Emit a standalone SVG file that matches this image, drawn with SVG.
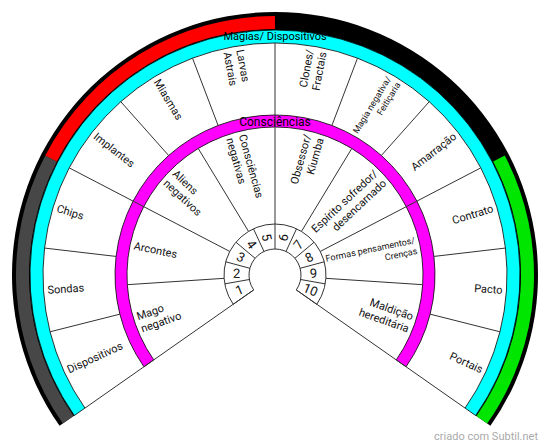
<svg xmlns="http://www.w3.org/2000/svg" width="550" height="447" viewBox="0 0 550 447">
<style>
text { font-family: Roboto, "Liberation Sans", Arial, sans-serif; fill: #111; }
.lbl { font-size: 11px; }
.l { text-anchor: start; }
.r { text-anchor: end; }
.sm { font-size: 9px; }
.num { font-size: 13px; text-anchor: middle; }
.ttl { font-size: 11px; text-anchor: middle; fill: #000; }
.div { stroke: #333; stroke-width: 1; fill: none; }
.band { stroke: #000; stroke-width: 0.8; }
</style>
<rect width="550" height="447" fill="#fff"/>
<g id="outer-ring">
  <path d="M 59.56 425.85 A 263 263 0 1 1 490.44 425.85 L 475.28 415.24 A 244.5 244.5 0 1 0 74.72 415.24 Z" fill="#000"/>
  <path id="seg-gray" d="M 62.84 423.56 A 259 259 0 0 1 45.26 155.41 L 56.80 161.41 A 246 246 0 0 0 73.49 416.10 Z" fill="#474747"/>
  <path id="seg-red" d="M 45.26 155.41 A 259 259 0 0 1 275 16 L 275 29 A 246 246 0 0 0 56.80 161.41 Z" fill="#ff0000"/>
  <path id="seg-black" d="M 275 16 A 259 259 0 0 1 504.74 155.41 L 493.20 161.41 A 246 246 0 0 0 275 29 Z" fill="#000"/>
  <path id="seg-green" d="M 504.74 155.41 A 259 259 0 0 1 487.16 423.56 L 476.51 416.10 A 246 246 0 0 0 493.20 161.41 Z" fill="#00e600"/>
</g>
<g id="cyan-ring">
  <path class="band" d="M 74.31 415.53 A 245 245 0 1 1 475.69 415.53 L 465.04 408.07 A 232 232 0 1 0 84.96 408.07 Z" fill="#00ffff"/>
  <text class="ttl" x="275" y="40">Magias/ Dispositivos</text>
</g>
<g id="magenta-ring">
  <path class="band" d="M 143.94 366.77 A 160 160 0 1 1 406.06 366.77 L 396.23 359.89 A 148 148 0 1 0 153.77 359.89 Z" fill="#ff00ff"/>
  <text class="ttl" x="275" y="126" style="font-size:12px">Consciências</text>
</g>
<g id="number-ring">
  <path d="M 233.22 304.25 A 51 51 0 1 1 316.78 304.25 L 296.30 289.91 A 26 26 0 1 0 253.70 289.91 Z" fill="#fff" stroke="#333" stroke-width="1"/>
</g>
<g id="connectors">
  <line class="div" x1="253.70" y1="289.91" x2="84.96" y2="408.07"/>
  <line class="div" x1="296.30" y1="289.91" x2="465.04" y2="408.07"/>
  <line class="div" x1="249.39" y1="279.51" x2="224.77" y2="283.86"/>
  <line class="div" x1="249.89" y1="268.27" x2="225.74" y2="261.80"/>
  <line class="div" x1="255.08" y1="258.29" x2="235.93" y2="242.22"/>
  <line class="div" x1="264.01" y1="251.44" x2="253.45" y2="228.78"/>
  <line class="div" x1="285.99" y1="251.44" x2="296.55" y2="228.78"/>
  <line class="div" x1="294.92" y1="258.29" x2="314.07" y2="242.22"/>
  <line class="div" x1="300.11" y1="268.27" x2="324.26" y2="261.80"/>
  <line class="div" x1="300.61" y1="279.51" x2="325.23" y2="283.86"/>
  <line class="div" x1="275" y1="249" x2="275" y2="224"/>
  <line class="div" x1="224.11" y1="278.34" x2="127.32" y2="284.68"/>
  <line class="div" x1="325.89" y1="278.34" x2="422.68" y2="284.68"/>
  <line class="div" x1="248.54" y1="231.40" x2="198.22" y2="148.47"/>
  <line class="div" x1="301.46" y1="231.40" x2="351.78" y2="148.47"/>
  <line class="div" x1="229.76" y1="251.45" x2="69.21" y2="167.87"/>
  <line class="div" x1="320.24" y1="251.45" x2="480.79" y2="167.87"/>
  <line class="div" x1="275" y1="224" x2="275" y2="43"/>
  <line class="div" x1="119.87" y1="314.17" x2="50.06" y2="331.79"/>
  <line class="div" x1="430.13" y1="314.17" x2="499.94" y2="331.79"/>
  <line class="div" x1="116.08" y1="256.43" x2="44.57" y2="248.07"/>
  <line class="div" x1="433.92" y1="256.43" x2="505.43" y2="248.07"/>
  <line class="div" x1="168.63" y1="155.48" x2="120.77" y2="101.69"/>
  <line class="div" x1="381.37" y1="155.48" x2="429.23" y2="101.69"/>
  <line class="div" x1="218.10" y1="125.46" x2="192.49" y2="58.17"/>
  <line class="div" x1="331.90" y1="125.46" x2="357.51" y2="58.17"/>
</g>
<g id="outer-labels">
  <g id="n-dispositivos"><text class="lbl l" transform="translate(67.67 369.85) rotate(-24.58)" dy="3.9">Dispositivos</text></g>
  <g id="n-sondas"><text class="lbl l" transform="translate(47.49 289.91) rotate(-3.75)" dy="3.9">Sondas</text></g>
  <g id="n-chips"><text class="lbl l" transform="translate(57.06 208.03) rotate(17.08)" dy="3.9">Chips</text></g>
  <g id="n-implantes"><text class="lbl l" transform="translate(95.12 134.91) rotate(37.92)" dy="3.9">Implantes</text></g>
  <g id="n-miasmas"><text class="lbl l" transform="translate(156.72 80.08) rotate(58.75)" dy="3.9">Miasmas</text></g>
  <g id="n-larvas"><text class="lbl l" transform="translate(233.76 50.76) rotate(79.58)"><tspan x="0" dy="-2.6">Larvas</tspan><tspan x="0" dy="13">Astrais</tspan></text></g>
  <g id="n-clones"><text class="lbl r" transform="translate(316.24 50.76) rotate(-79.58)"><tspan x="0" dy="-2.6">Clones/</tspan><tspan x="0" dy="13">Fractais</tspan></text></g>
  <g id="n-magia"><text class="lbl r sm" transform="translate(393.28 80.08) rotate(-58.75)"><tspan x="0" dy="-2.3">Magia negativa/</tspan><tspan x="0" dy="11">Feitiçaria</tspan></text></g>
  <g id="n-amarracao"><text class="lbl r" transform="translate(454.88 134.91) rotate(-37.92)" dy="3.9">Amarração</text></g>
  <g id="n-contrato"><text class="lbl r" transform="translate(492.94 208.03) rotate(-17.08)" dy="3.9">Contrato</text></g>
  <g id="n-pacto"><text class="lbl r" transform="translate(502.51 289.91) rotate(3.75)" dy="3.9">Pacto</text></g>
  <g id="n-portais"><text class="lbl r" transform="translate(482.33 369.85) rotate(24.58)" dy="3.9">Portais</text></g>
</g>
<g id="middle-labels">
  <g id="n-mago"><text class="lbl l" transform="translate(139.16 322.78) rotate(-19.375)"><tspan x="0" dy="-2.6">Mago</tspan><tspan x="0" dy="13">negativo</tspan></text></g>
  <g id="n-arcontes"><text class="lbl l" transform="translate(134.08 245.36) rotate(11.875)" dy="3.9">Arcontes</text></g>
  <g id="n-aliens"><text class="lbl l" transform="translate(169.89 176.57) rotate(43.125)"><tspan x="0" dy="-2.6">Aliens</tspan><tspan x="0" dy="13">negativos</tspan></text></g>
  <g id="n-consciencias"><text class="lbl l" transform="translate(236.22 136.32) rotate(74.375)"><tspan x="0" dy="-2.6">Consciências</tspan><tspan x="0" dy="13">negativas</tspan></text></g>
  <g id="n-obsessor"><text class="lbl r" transform="translate(313.78 136.32) rotate(-74.375)"><tspan x="0" dy="-2.6">Obsessor/</tspan><tspan x="0" dy="13">Kiumba</tspan></text></g>
  <g id="n-espirito"><text class="lbl r" transform="translate(380.11 176.57) rotate(-43.125)"><tspan x="0" dy="-2.6">Espírito sofredor/</tspan><tspan x="0" dy="13">desencarnado</tspan></text></g>
  <g id="n-formas"><text class="lbl r sm" transform="translate(415.92 245.36) rotate(-11.875)"><tspan x="0" dy="-2.3">Formas pensamentos/</tspan><tspan x="0" dy="11">Crenças</tspan></text></g>
  <g id="n-maldicao"><text class="lbl r" transform="translate(410.84 322.78) rotate(19.375)"><tspan x="0" dy="-2.6">Maldição</tspan><tspan x="0" dy="13">hereditária</tspan></text></g>
</g>
<g id="numbers">
  <text class="num" transform="translate(239.43 289.73) rotate(-22.5)" dy="4.6">1</text>
  <text class="num" transform="translate(236.54 273.32) rotate(2.5)" dy="4.6">2</text>
  <text class="num" transform="translate(240.85 257.22) rotate(27.5)" dy="4.6">3</text>
  <text class="num" transform="translate(251.56 244.46) rotate(52.5)" dy="4.6">4</text>
  <text class="num" transform="translate(266.67 237.41) rotate(77.5)" dy="4.6">5</text>
  <text class="num" transform="translate(283.33 237.41) rotate(-77.5)" dy="4.6">6</text>
  <text class="num" transform="translate(298.44 244.46) rotate(-52.5)" dy="4.6">7</text>
  <text class="num" transform="translate(309.15 257.22) rotate(-27.5)" dy="4.6">8</text>
  <text class="num" transform="translate(313.46 273.32) rotate(-2.5)" dy="4.6">9</text>
  <text class="num" transform="translate(310.57 289.73) rotate(22.5)" dy="4.6">10</text>
</g>
<text x="538" y="440" text-anchor="end" style="font-size:11px;fill:#aaa">criado com Subtil.net</text>
</svg>
